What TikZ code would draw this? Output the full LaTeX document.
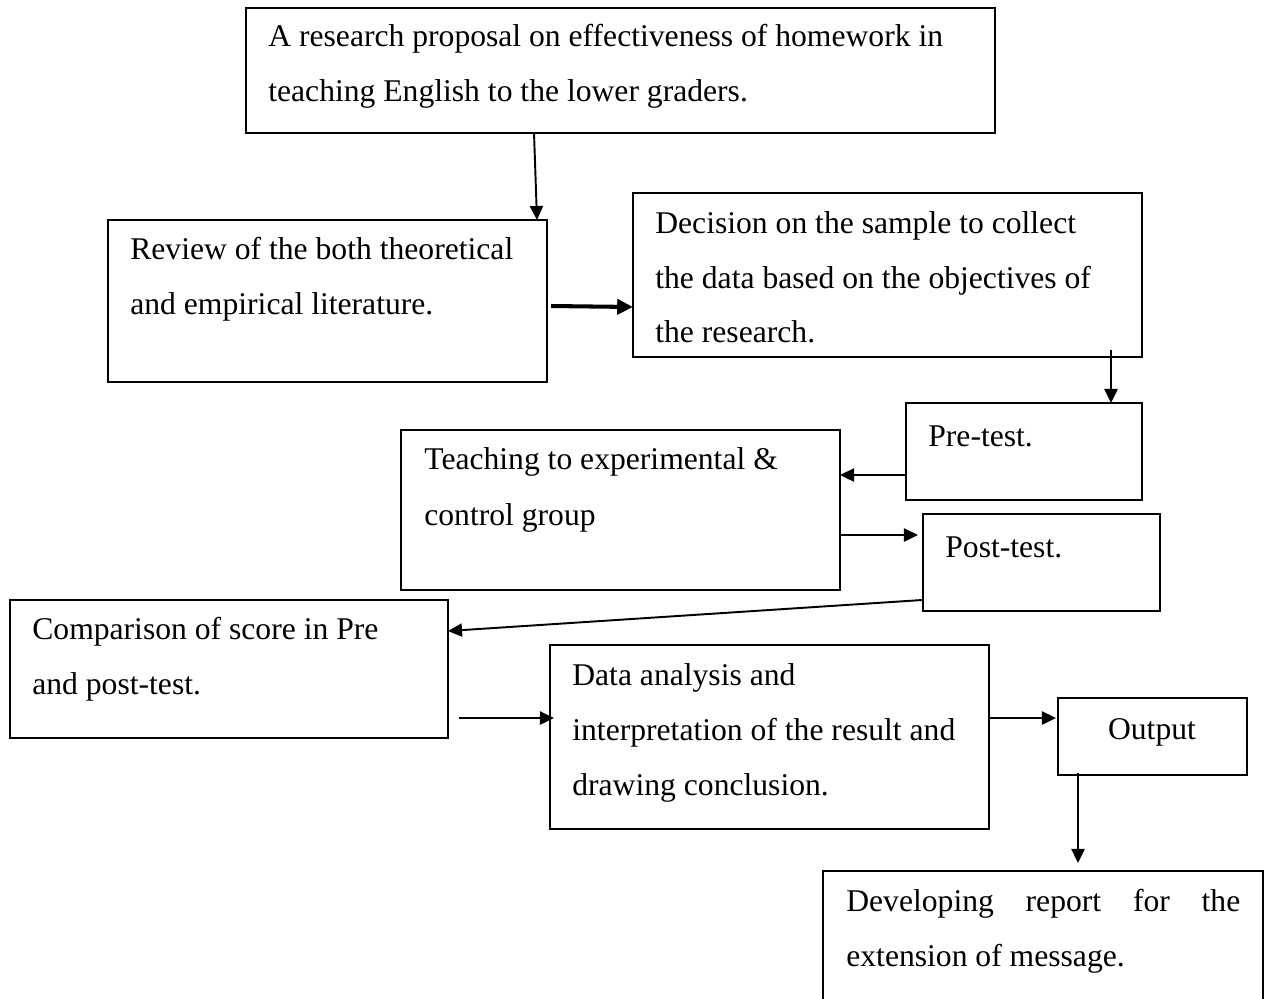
\documentclass[tikz,border=0pt]{standalone}
\usepackage{fontspec}
\setmainfont{Liberation Serif}
\usetikzlibrary{arrows.meta,calc,fit}
\tikzset{
  box/.style={draw=black, line width=1.1pt, inner sep=0pt, outer sep=0pt},
  txt/.style={inner sep=0pt, anchor=mid west, yshift=-0.11cm, font=\fontsize{18}{18}\selectfont},
  arr/.style={line width=1.1pt, -{Triangle[length=8pt,width=7.5pt]}},
  thickarr/.style={line width=2.3pt, -{Triangle[length=9pt,width=8.5pt]}}
}
\begin{document}
\begin{tikzpicture}[x=0.02cm, y=-0.02cm]
\clip (0,0) rectangle (1266,998);
% boxes
\node[box, fit={(246,8) (995,133)}] (top) {};
\node[box, fit={(108,220) (547,382)}] (rev) {};
\node[box, fit={(633,193) (1142,357)}] (dec) {};
\node[box, fit={(906,403) (1142,500)}] (pre) {};
\node[box, fit={(401,430) (840,590)}] (tea) {};
\node[box, fit={(923,514) (1160,611)}] (post) {};
\node[box, fit={(10,600) (448,738)}] (cmp) {};
\node[box, fit={(550,645) (989,829)}] (dat) {};
\node[box, fit={(1058,698) (1247,775)}] (out) {};
\node[box, fit={(823,871) (1263,1015)}] (dev) {};
% texts
\node[txt] (top1) at (268,37) {A research proposal on effectiveness of homework in};
\node[txt] (top2) at (268,92) {teaching English to the lower graders.};
\node[txt] (rev1) at (130,250) {Review of the both theoretical};
\node[txt] (rev2) at (130,305) {and empirical literature.};
\node[txt] (dec1) at (655,224) {Decision on the sample to collect};
\node[txt] (dec2) at (655,279) {the data based on the objectives of};
\node[txt] (dec3) at (655,333) {the research.};
\node[txt] (pre1) at (928,437) {Pre-test.};
\node[txt] (tea1) at (424,460) {Teaching to experimental \&};
\node[txt] (tea2) at (424,516) {control group};
\node[txt] (post1) at (945,548) {Post-test.};
\node[txt] (cmp1) at (32,630) {Comparison of score in Pre};
\node[txt] (cmp2) at (32,685) {and post-test.};
\node[txt] (dat1) at (572,676) {Data analysis and};
\node[txt] (dat2) at (572,731) {interpretation of the result and};
\node[txt] (dat3) at (572,786) {drawing conclusion.};
\node[txt, anchor=mid] (out1) at (1152,730) {Output};
\node[txt] (dev1) at (846,902) {\makebox[7.88cm][s]{Developing\hfill report\hfill for\hfill the}};
\node[txt] (dev2) at (846,957) {extension of message.};
% connectors
\draw[arr] ($(top.south west)+(288,0)$) -- ($(rev.north west)+(429,0)$);
\draw[thickarr] ($(rev.south east)+(4,-76)$) -- ($(dec.north west)+(0,114)$);
\draw[arr] ($(dec.south east)+(-31,-7)$) -- ($(pre.north west)+(205,0)$);
\draw[arr] ($(pre.north west)+(0,72)$) -- ($(tea.north east)+(0,45)$);
\draw[arr] ($(tea.north east)+(0,105)$) -- ($(post.north west)+(-5,21)$);
\draw[arr] ($(post.south west)+(-1,-11)$) -- ($(cmp.north east)+(0,31)$);
\draw[arr] ($(cmp.south east)+(11,-20)$) -- ($(dat.north west)+(4,73)$);
\draw[arr] ($(dat.north east)+(0,73)$) -- ($(out.north west)+(-2,20)$);
\draw[arr] ($(out.south west)+(20,-2)$) -- ($(dev.north west)+(255,-8)$);
\end{tikzpicture}
\end{document}
